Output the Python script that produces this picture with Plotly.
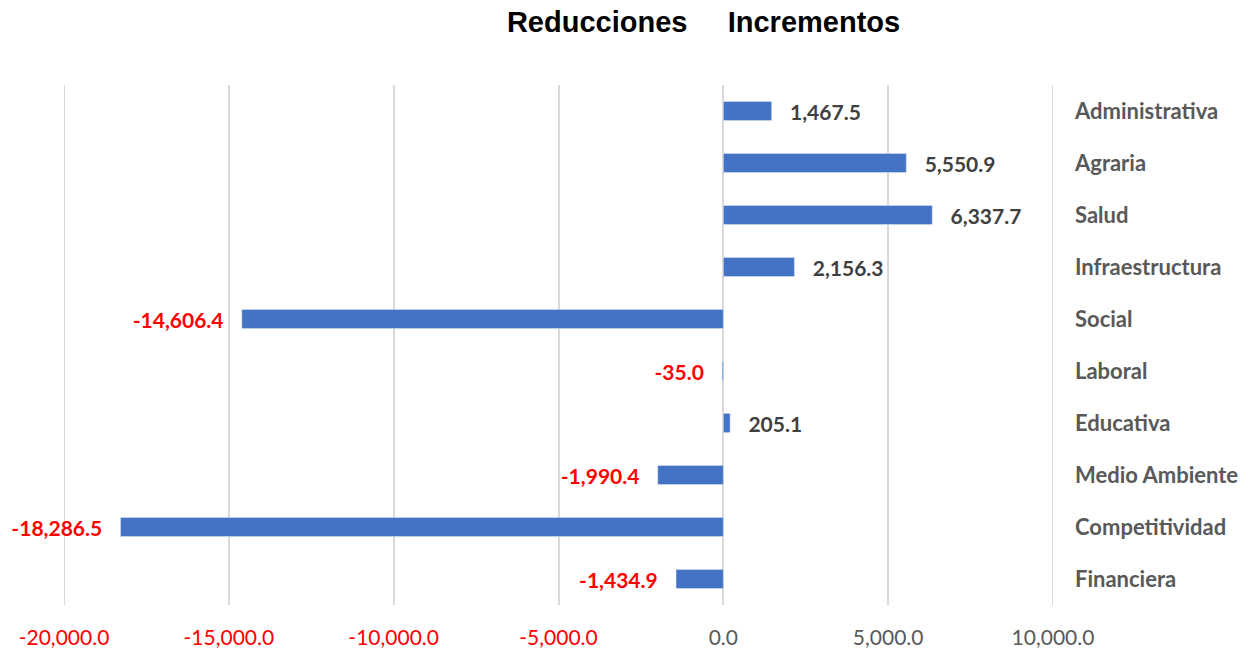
import plotly.graph_objects as go

categories = ['Administrativa', 'Agraria', 'Salud', 'Infraestructura', 'Social',
              'Laboral', 'Educativa', 'Medio Ambiente', 'Competitividad', 'Financiera']
values = [1467.5, 5550.9, 6337.7, 2156.3, -14606.4, -35.0, 205.1, -1990.4, -18286.5, -1434.9]

tick_vals = [-20000, -15000, -10000, -5000, 0, 5000, 10000]

pad = '\u00a0' * 3
labels = []
label_colors = []
for v in values:
    s = f'{v:,.1f}'
    if v < 0:
        labels.append(s + pad)
        label_colors.append('#FF0000')
    else:
        labels.append(pad + s)
        label_colors.append('#404040')

tick_text = []
for t in tick_vals:
    color = '#FF0000' if t < 0 else '#595959'
    tick_text.append(f'<span style="color:{color}">{t:,.1f}</span>')

fig = go.Figure()

fig.add_trace(go.Bar(
    x=values, y=categories,
    orientation='h',
    marker=dict(color='#4472C4'),
    text=labels,
    textposition='outside',
    constraintext='none',
    textfont=dict(family='Lato', size=21, color=label_colors, weight='bold'),
    cliponaxis=False,
    showlegend=False
))

# plotly skips gridlines on the plot edges, so draw the two outer ones
for t in (tick_vals[0], tick_vals[-1]):
    fig.add_shape(type='line', xref='x', yref='paper', x0=t, x1=t, y0=0, y1=1,
                  line=dict(color='#D9D9D9', width=2), layer='below')

fig.update_layout(
    width=1257, height=654,
    paper_bgcolor='white', plot_bgcolor='white',
    margin=dict(l=64, r=204, t=85, b=49, autoexpand=False),
    bargap=0.63,
    title=dict(
        text='Reducciones\u00a0\u00a0\u00a0\u00a0\u00a0Incrementos',
        font=dict(family='Liberation Sans', size=29, color='black', weight='bold'),
        x=0.5597, xanchor='center', y=0.966, yanchor='middle'
    ),
    xaxis=dict(
        range=[tick_vals[0], tick_vals[-1]],
        tickvals=tick_vals, ticktext=tick_text,
        tickfont=dict(family='Lato', size=21, color='#595959'),
        showgrid=True, gridcolor='#D9D9D9', gridwidth=2,
        zeroline=True, zerolinecolor='#D9D9D9', zerolinewidth=2,
        showline=False, ticks='', ticklabelstandoff=18
    ),
    yaxis=dict(
        autorange='reversed', side='right',
        tickfont=dict(family='Lato', size=22, color='#595959', weight='bold'),
        showgrid=False, showline=False, ticks='', zeroline=False,
        ticklabelstandoff=21
    )
)

# drop the default body margin so the figure sits at the page corner
fig.write_html("out.html", config={'displayModeBar': False},
               post_script="document.body.style.margin='0';")
